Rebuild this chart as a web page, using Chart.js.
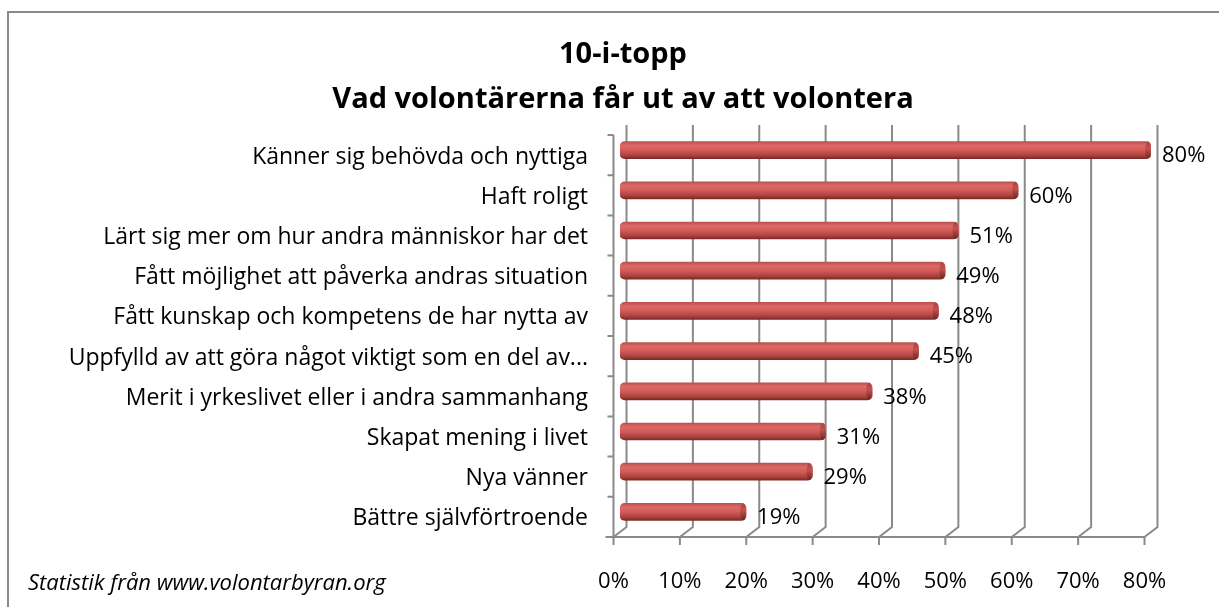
<!DOCTYPE html>
<html>
<head>
<meta charset="utf-8">
<script src="https://cdn.jsdelivr.net/npm/chart.js@4.4.0/dist/chart.umd.min.js"></script>
<style>
  html, body { margin: 0; padding: 0; background: #fff; }
  canvas { display: block; }
</style>
</head>
<body>
<canvas id="chart" width="1219" height="607"></canvas>
<script>
// ---- Data ----

const titleLines = ['10-i-topp', 'Vad volontärerna får ut av att volontera']
const categories = [
  'Känner sig behövda och nyttiga',
  'Haft roligt',
  'Lärt sig mer om hur andra människor har det',
  'Fått möjlighet att påverka andras situation',
  'Fått kunskap och kompetens de har nytta av',
  'Uppfylld av att göra något viktigt som en del av...',
  'Merit i yrkeslivet eller i andra sammanhang',
  'Skapat mening i livet',
  'Nya vänner',
  'Bättre självförtroende'
]
const values = [80, 60, 51, 49, 48, 45, 38, 31, 29, 19]
const xTicks = [0, 10, 20, 30, 40, 50, 60, 70, 80]
const footnote = 'Statistik från www.volontarbyran.org'

// ---- Style ----

const FONT = '"Open Sans", Lato, sans-serif'
const GRID = '#8a8a8a'
const DEPTH_X = 6.5, DEPTH_Y = 5   // half depth of the 3D wall

function barFill(ctx) {
  const chart = ctx.chart
  if (!chart.chartArea || ctx.dataIndex == null) return '#c0504d'
  const y = chart.scales.y.getPixelForValue(ctx.dataIndex)
  const g = chart.ctx.createLinearGradient(0, y - 8.5, 0, y + 8.5)
  g.addColorStop(0,    '#b9514e')
  g.addColorStop(0.22, '#de6966')
  g.addColorStop(0.5,  '#d35b58')
  g.addColorStop(0.8,  '#ad433f')
  g.addColorStop(1,    '#7b2a27')
  return g
}

// ---- 3D frame, labels, title ----

const decor = {
  id: 'decor',
  beforeDatasetsDraw(chart) {
    const c = chart.ctx
    const { top, bottom, left } = chart.chartArea
    const x = chart.scales.x, y = chart.scales.y

    c.save()
    // outer frame
    c.strokeStyle = GRID
    c.lineWidth = 2
    c.beginPath()
    c.moveTo(8, 607); c.lineTo(8, 12); c.lineTo(1219, 12)
    c.stroke()

    // back wall gridlines + floor diagonals
    for (const v of xTicks) {
      const px = x.getPixelForValue(v)
      c.beginPath()
      c.moveTo(px + DEPTH_X, top - DEPTH_Y)
      c.lineTo(px + DEPTH_X, bottom - DEPTH_Y)
      c.lineTo(px - DEPTH_X, bottom + DEPTH_Y)
      c.stroke()
    }

    // front x axis with ticks
    const fy = bottom + DEPTH_Y
    c.beginPath()
    c.moveTo(x.getPixelForValue(0) - DEPTH_X - 8, fy)
    c.lineTo(x.getPixelForValue(80) - DEPTH_X, fy)
    for (const v of xTicks) {
      const px = x.getPixelForValue(v) - DEPTH_X
      c.moveTo(px, fy); c.lineTo(px, fy + 8)
    }
    c.stroke()

    // front category axis with ticks
    const fx = left - DEPTH_X
    const step = (bottom - top) / categories.length
    c.beginPath()
    c.moveTo(fx, top + DEPTH_Y)
    c.lineTo(fx, fy)
    for (let i = 0; i <= categories.length; i++) {
      const ty = top + DEPTH_Y + i * step
      c.moveTo(fx, ty); c.lineTo(fx - 6, ty)
    }
    c.stroke()

    // x tick labels
    c.fillStyle = '#000'
    c.font = '22px ' + FONT
    c.textAlign = 'center'
    c.textBaseline = 'middle'
    for (const v of xTicks) {
      c.fillText(v + '%', x.getPixelForValue(v) - DEPTH_X, 582)
    }

    // category labels
    c.font = '23px ' + FONT
    c.textAlign = 'right'
    categories.forEach((lab, i) => {
      c.fillText(lab, 588, y.getPixelForValue(i) + DEPTH_Y + 2)
    })

    // title
    c.textAlign = 'center'
    c.font = 'bold 29px ' + FONT
    c.fillText(titleLines[0], 623, 55)
    c.fillText(titleLines[1], 623, 100)

    // footnote
    c.textAlign = 'left'
    c.font = 'italic 22px ' + FONT
    c.fillText(footnote, 28, 584)
    c.restore()
  },
  afterDatasetsDraw(chart) {
    const c = chart.ctx
    const meta = chart.getDatasetMeta(0)
    c.save()
    // darker end caps of the cylinders
    meta.data.forEach(bar => {
      const g = c.createLinearGradient(0, bar.y - 8.5, 0, bar.y + 8.5)
      g.addColorStop(0, '#a54541')
      g.addColorStop(0.4, '#c2524e')
      g.addColorStop(1, '#6e2523')
      c.fillStyle = g
      c.beginPath()
      c.ellipse(bar.x - 3, bar.y, 3, 8.5, 0, 0, Math.PI * 2)
      c.fill()
    })
    // value labels
    c.fillStyle = '#000'
    c.font = '22px ' + FONT
    c.textAlign = 'left'
    c.textBaseline = 'middle'
    meta.data.forEach((bar, i) => {
      c.fillText(values[i] + '%', bar.x + 11, bar.y + 6)
    })
    c.restore()
  }
}

new Chart(document.getElementById('chart'), {
  type: 'bar',
  data: {
    labels: categories,
    datasets: [{
      data: values,
      backgroundColor: barFill,
      barThickness: 17,
      borderSkipped: false,
      borderRadius: 5
    }]
  },
  options: {
    indexAxis: 'y',
    responsive: false,
    animation: false,
    layout: { padding: { left: 620, right: 68, top: 130, bottom: 75 } },
    scales: {
      x: { display: false, min: 0, max: 80 },
      y: { display: false }
    },
    plugins: {
      legend: { display: false },
      tooltip: { enabled: false }
    }
  },
  plugins: [decor]
})
</script>
</body>
</html>
